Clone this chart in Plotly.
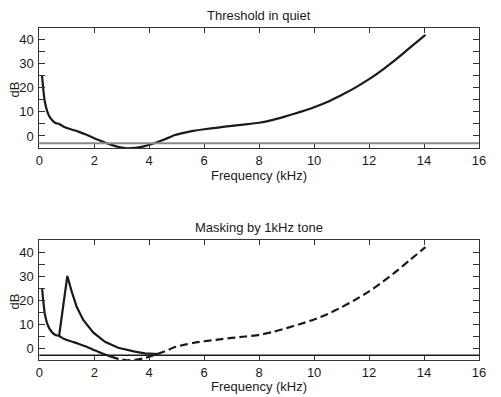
import plotly.graph_objects as go

# ---- data ----
thr_freq = [0.1, 0.15, 0.2, 0.3, 0.4, 0.57, 0.72, 0.93, 1.2, 1.42, 1.7, 1.96, 2.25,
            2.6, 2.9, 3.2, 3.5, 3.84, 4.2, 4.5, 4.94, 5.3, 5.6, 6.0, 6.5, 7.0, 7.5,
            8.0, 8.5, 9.0, 9.5, 10.0, 10.5, 11.0, 11.5, 12.0, 12.5, 13.0, 13.5, 14.05]
thr_db = [25, 19, 14.3, 9.8, 7.5, 5.5, 5.0, 3.6, 2.6, 1.8, 0.6, -0.7, -2.1,
          -3.6, -4.6, -5.1, -4.9, -4.2, -2.9, -1.7, 0.4, 1.4, 2.1, 2.8, 3.5, 4.2, 4.8,
          5.5, 6.7, 8.3, 10.0, 11.9, 14.2, 17.0, 20.1, 23.6, 27.6, 32.0, 36.8, 42.0]

mask_freq = [0.72, 1.02, 1.18, 1.36, 1.6, 1.96, 2.39, 2.87, 3.48, 3.84, 4.35]
mask_db = [5.0, 30.0, 23.5, 17.2, 11.7, 6.5, 2.6, 0.1, -1.5, -2.2, -2.5]

split_freq = 2.6          # threshold drawn solid below this, dashed above (lower panel)
baseline_db = -3          # horizontal reference line

x_ticks = [0, 2, 4, 6, 8, 10, 12, 14, 16]
y_ticks = [0, 5, 10, 15, 20, 25, 30, 35, 40]
y_labels = ["0", "", "10", "", "20", "", "30", "", "40"]

titles = ["Threshold in quiet", "Masking by 1kHz tone"]
x_title = "Frequency (kHz)"
y_title = "dB"

# ---- figure ----
W, H = 501, 397
FONT = "Liberation Sans, Arial, Helvetica, sans-serif"
BLACK = "#1a1a1a"

def px_x(p):
    return p / W

def px_y(p):
    return 1 - p / H

top_px = (27.7, 148.0)
bot_px = (240.0, 360.0)
x_px = (39.3, 479.0)

fig = go.Figure()

smooth = dict(shape="spline", smoothing=0.6)

# top panel
fig.add_trace(go.Scatter(x=thr_freq, y=thr_db, mode="lines",
                         line=dict(color=BLACK, width=2.2, **smooth), xaxis="x", yaxis="y",
                         showlegend=False, hoverinfo="skip"))

# bottom panel
i_split = thr_freq.index(split_freq)
fig.add_trace(go.Scatter(x=thr_freq[:i_split + 1], y=thr_db[:i_split + 1], mode="lines",
                         line=dict(color=BLACK, width=2.2, **smooth), xaxis="x2", yaxis="y2",
                         showlegend=False, hoverinfo="skip"))
fig.add_trace(go.Scatter(x=thr_freq[i_split:], y=thr_db[i_split:], mode="lines",
                         line=dict(color=BLACK, width=2.2, dash="8px,4px", **smooth),
                         xaxis="x2", yaxis="y2", showlegend=False, hoverinfo="skip"))
fig.add_trace(go.Scatter(x=mask_freq, y=mask_db, mode="lines",
                         line=dict(color=BLACK, width=2.2), xaxis="x2", yaxis="y2",
                         showlegend=False, hoverinfo="skip"))

axis_common = dict(showline=True, linecolor="#333333", linewidth=1, mirror="ticks",
                   ticks="inside", tickcolor="#333333", tickwidth=1,
                   showgrid=False, zeroline=False, automargin=False,
                   tickfont=dict(family=FONT, size=13, color=BLACK))

xdom = [px_x(x_px[0]), px_x(x_px[1])]
fig.update_layout(
    template="none",
    width=W, height=H,
    margin=dict(l=0, r=0, t=0, b=0, pad=0),
    paper_bgcolor="white", plot_bgcolor="white",
    xaxis=dict(domain=xdom, range=[0, 16], tickvals=x_ticks, ticklen=5,
               anchor="y", ticklabelstandoff=0, **axis_common),
    yaxis=dict(domain=[px_y(top_px[1]), px_y(top_px[0])], range=[-5, 45],
               tickvals=y_ticks, ticktext=y_labels, ticklen=6, anchor="x",
               ticklabelstandoff=2, **axis_common),
    xaxis2=dict(domain=xdom, range=[0, 16], tickvals=x_ticks, ticklen=5,
                anchor="y2", ticklabelstandoff=0, **axis_common),
    yaxis2=dict(domain=[px_y(bot_px[1]), px_y(bot_px[0])], range=[-5, 45],
                tickvals=y_ticks, ticktext=y_labels, ticklen=6, anchor="x2",
                ticklabelstandoff=2, **axis_common),
)

# baseline lines
fig.add_shape(type="line", xref="x domain", yref="y", x0=0, x1=1,
              y0=baseline_db, y1=baseline_db, line=dict(color="#8a8a8a", width=2))
fig.add_shape(type="line", xref="x2 domain", yref="y2", x0=0, x1=1,
              y0=baseline_db, y1=baseline_db, line=dict(color=BLACK, width=1.5))

xc = (xdom[0] + xdom[1]) / 2
anns = [
    (titles[0], xc, px_y(15.5), 0),
    (titles[1], xc, px_y(227.0), 0),
    (x_title, xc, px_y(175.0), 0),
    (x_title, xc, px_y(386.5), 0),
    (y_title, px_x(13.5), px_y(90.0), -90),
    (y_title, px_x(13.5), px_y(302.0), -90),
]
for text, ax, ay, ang in anns:
    fig.add_annotation(text=text, x=ax, y=ay, xref="paper", yref="paper",
                       showarrow=False, textangle=ang, xanchor="center", yanchor="middle",
                       font=dict(family=FONT, size=13, color=BLACK))

fig.write_html("out.html", config={"displayModeBar": False},
               post_script="document.body.style.margin='0px';document.body.style.overflow='hidden';")
